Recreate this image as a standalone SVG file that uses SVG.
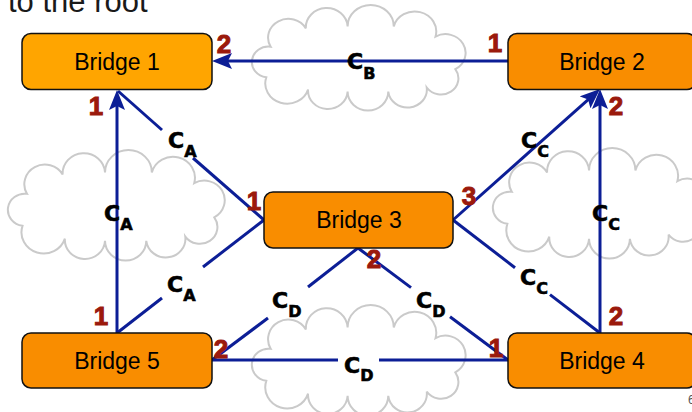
<svg xmlns="http://www.w3.org/2000/svg" xmlns:xlink="http://www.w3.org/1999/xlink" width="692" height="412" viewBox="0 0 692 412">
  <style>
    .cloud { fill: none; stroke: #CACACA; stroke-width: 2; }
    .link { fill: none; stroke: #0C1E96; stroke-width: 3; }
    .box { stroke: #111; stroke-width: 1.5; }
    .b1 { fill: #FFA500; }
    .bx { fill: #F98D00; }
    .name { font-family: "Liberation Sans", Arial, sans-serif; font-size: 23px; fill: #000; text-anchor: middle; }
    .cost { font-family: "DejaVu Sans", Verdana, sans-serif; font-weight: bold; font-size: 22px; fill: #000; stroke: #000; stroke-width: 0.6; }
    .sub { font-size: 16px; }
    .port { font-family: "Liberation Sans", Arial, sans-serif; font-weight: bold; font-size: 26px; fill: #9B1A0C; stroke: #9B1A0C; stroke-width: 1; text-anchor: middle; }
    .title { font-family: "Liberation Sans", Arial, sans-serif; font-size: 31px; fill: #1A1A1A; }
  </style>
  <defs>
    <!-- puffy cloud outline in a ~192x103 box -->
    <path id="cloudShape" vector-effect="non-scaling-stroke"
          d="M14,70 A1,1 0 0 1 18,40 A1,1 0 0 1 50,22 A1,1 0 0 1 88,20 A1,1 0 0 1 130,20 A1,1 0 0 1 168,30 A1,1 0 0 1 186,62 A1,1 0 0 1 160,80 A1,1 0 0 1 125,84 A1,1 0 0 1 88,84 A1,1 0 0 1 52,82 A1,1 0 0 1 14,70 Z"/>
    <marker id="arrow" markerUnits="userSpaceOnUse" markerWidth="20" markerHeight="16"
            viewBox="0 0 20 16" refX="15" refY="8" orient="auto">
      <path d="M0,0 L20,8 L0,16 L4,8 Z" fill="#0C1E96"/>
    </marker>
  </defs>

  <!-- heading -->
  <text class="title" x="8" y="12">to the root</text>

  <!-- LAN clouds -->
  <g id="clouds">
    <use xlink:href="#cloudShape" class="cloud" transform="translate(250.9,6) scale(1.099,1.019)"/>
    <use xlink:href="#cloudShape" class="cloud" transform="translate(6.9,151.1) scale(1.115,1.068)"/>
    <use xlink:href="#cloudShape" class="cloud" transform="translate(491.9,149.1) scale(1.104,1.068)"/>
    <use xlink:href="#cloudShape" class="cloud" transform="translate(250.9,306.1) scale(1.099,1.068)"/>
  </g>

  <!-- links between bridges -->
  <g id="connectors">
    <line class="link" x1="509" y1="61" x2="217" y2="61" marker-end="url(#arrow)"/>
    <line class="link" x1="117" y1="333" x2="117" y2="95" marker-end="url(#arrow)"/>
    <line class="link" x1="600" y1="333" x2="600" y2="94" marker-end="url(#arrow)"/>
    <line class="link" x1="453" y1="220" x2="596.3" y2="92.3" marker-end="url(#arrow)"/>

    <polyline class="link" points="118,91 162,130"/>
    <polyline class="link" points="193,158 264,220"/>

    <polyline class="link" points="117,333 162,298"/>
    <polyline class="link" points="203,267 264,220"/>

    <polyline class="link" points="212,360 268,318"/>
    <polyline class="link" points="308,287 358,248"/>

    <polyline class="link" points="358,248 411,287.6"/>
    <polyline class="link" points="450,316.7 508,360"/>

    <polyline class="link" points="212,360 338,360"/>
    <polyline class="link" points="379,360 508,360"/>

    <polyline class="link" points="453,220 515,267.7"/>
    <polyline class="link" points="550,294.6 600,333"/>
  </g>

  <!-- bridges -->
  <g id="bridge1">
    <rect class="box b1" x="22" y="33.5" width="190" height="56" rx="9"/>
    <text class="name" x="117" y="70">Bridge 1</text>
  </g>
  <g id="bridge2">
    <rect class="box bx" x="508" y="33.5" width="188" height="56" rx="9"/>
    <text class="name" x="602" y="70">Bridge 2</text>
  </g>
  <g id="bridge3">
    <rect class="box bx" x="264" y="192" width="189" height="56" rx="9"/>
    <text class="name" x="359" y="228">Bridge 3</text>
  </g>
  <g id="bridge5">
    <rect class="box bx" x="22" y="333" width="190" height="55" rx="9"/>
    <text class="name" x="117" y="369">Bridge 5</text>
  </g>
  <g id="bridge4">
    <rect class="box bx" x="508" y="333" width="188" height="55" rx="9"/>
    <text class="name" x="602" y="369">Bridge 4</text>
  </g>

  <!-- link costs -->
  <g id="costs">
    <text class="cost" x="347" y="69">C<tspan class="sub" dy="10">B</tspan></text>
    <text class="cost" x="168" y="148">C<tspan class="sub" dy="9">A</tspan></text>
    <text class="cost" x="104" y="221">C<tspan class="sub" dy="9">A</tspan></text>
    <text class="cost" x="167" y="292">C<tspan class="sub" dy="9">A</tspan></text>
    <text class="cost" x="272" y="308">C<tspan class="sub" dy="9">D</tspan></text>
    <text class="cost" x="416" y="308">C<tspan class="sub" dy="9">D</tspan></text>
    <text class="cost" x="344" y="373">C<tspan class="sub" dy="8">D</tspan></text>
    <text class="cost" x="521" y="148">C<tspan class="sub" dy="9">C</tspan></text>
    <text class="cost" x="592" y="221">C<tspan class="sub" dy="9">C</tspan></text>
    <text class="cost" x="520" y="285">C<tspan class="sub" dy="9">C</tspan></text>
  </g>

  <!-- port numbers -->
  <g id="ports">
    <text class="port" x="224" y="53">2</text>
    <text class="port" x="96" y="115">1</text>
    <text class="port" x="495" y="52">1</text>
    <text class="port" x="616" y="115">2</text>
    <text class="port" x="254" y="210">1</text>
    <text class="port" x="469" y="205">3</text>
    <text class="port" x="374" y="268">2</text>
    <text class="port" x="101" y="325">1</text>
    <text class="port" x="221" y="358">2</text>
    <text class="port" x="496" y="357">1</text>
    <text class="port" x="616" y="325">2</text>
  </g>

  <!-- slide number -->
  <text x="688" y="404" font-family="Liberation Sans, Arial, sans-serif" font-size="12" fill="#555">6</text>
</svg>
